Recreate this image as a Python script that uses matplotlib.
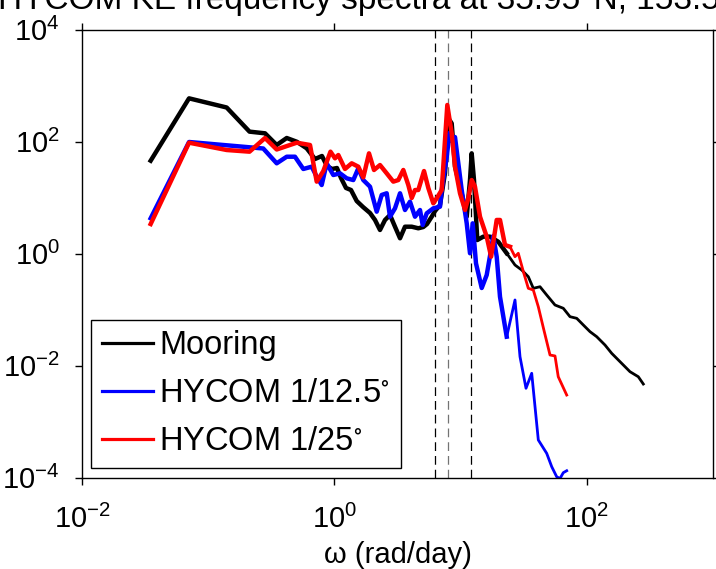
import numpy as np
import matplotlib
matplotlib.use('Agg')
import matplotlib.pyplot as plt
from matplotlib.ticker import NullLocator

# Helvetica-like text, also inside the 10^n tick labels
plt.rcParams['font.family'] = ['Liberation Sans', 'DejaVu Sans']
plt.rcParams['mathtext.fontset'] = 'custom'
plt.rcParams['mathtext.rm'] = 'Liberation Sans'
plt.rcParams['mathtext.it'] = 'Liberation Sans:italic'
plt.rcParams['mathtext.default'] = 'regular'

# Mooring spectrum (rad/day, KE)
moor_w = [0.035, 0.0705, 0.140, 0.2125, 0.282, 0.349, 0.419, 0.503, 0.603, 0.702,
          0.797, 0.874, 0.957, 1.048, 1.128, 1.236, 1.354, 1.502, 1.685, 1.915,
          2.098, 2.298, 2.518, 2.758, 3.021, 3.311, 3.626, 4.099, 4.622, 5.064,
          5.417, 5.902, 6.27, 6.868, 7.522, 7.99, 8.50, 9.03, 9.59, 10.50,
          11.18, 11.87, 12.24, 12.77, 13.56, 15.13, 17.10, 19.90, 23.19, 26.98,
          30.50, 34.40, 37.68, 42.58, 48.11, 55.98, 65.14, 73.60, 83.18, 93.83,
          106.0, 119.8, 139.4, 157.5, 183.3, 219.9, 255.9, 280.4]
moor_ke = [45.4, 590, 405, 150, 140, 86.6, 115.5, 99.1, 75.6, 48.7,
           55.1, 36.5, 32.3, 33.6, 22.3, 14.8, 13.6, 8.66, 6.77, 5.29,
           3.97, 2.63, 3.97, 4.87, 3.01, 1.87, 3.01, 3.01, 2.82, 2.97,
           3.36, 4.54, 5.74, 7.35, 27.4, 260, 211, 35.5, 20.5, 9.02,
           4.54, 20.5, 61.5, 20.5, 1.74, 2.0, 2.0, 1.62, 1.01, 0.623,
           0.507, 0.385, 0.239, 0.255, 0.1815, 0.1203, 0.1051, 0.0744, 0.0696, 0.0529,
           0.0402, 0.0327, 0.0232, 0.0165, 0.0117, 0.00775, 0.0063, 0.00467]

# HYCOM 1/12.5 degree
h12_w = [0.035, 0.0705, 0.273, 0.349, 0.419, 0.487, 0.567, 0.661, 0.724, 0.793,
         0.869, 0.980, 1.108, 1.252, 1.412, 1.547, 1.694, 1.915, 2.164, 2.371,
         2.597, 2.758, 3.021, 3.311, 3.626, 3.972, 4.352, 4.767, 5.009, 5.387,
         6.076, 6.868, 7.085, 7.762, 8.17, 8.55, 9.03, 9.59, 10.20, 11.18,
         11.87, 12.47, 13.24, 14.70, 16.10, 17.42, 18.16, 19.32, 20.52, 23.19,
         26.98, 29.56, 32.98, 36.60, 41.28, 48.11, 52.72, 57.74, 61.33, 65.14, 69.3]
h12_ke = [4.25, 98.0, 75.0, 40.8, 53.5, 53.5, 32.3, 35.5, 23.5, 16.7,
          40.8, 25.2, 27.0, 22.0, 20.5, 33.2, 20.5, 15.6, 5.58, 11.1,
          11.9, 4.54, 6.41, 11.9, 5.98, 8.42, 4.54, 5.98, 3.23, 5.22,
          6.41, 6.85, 13.6, 53.5, 142, 102, 120, 40.8, 13.6, 3.46,
          1.01, 3.46, 0.668, 0.242, 0.413, 1.155, 2.05, 0.877, 0.169, 0.0327,
          0.148, 0.01436, 0.00392, 0.00726, 0.000468, 0.00027, 0.000156, 0.000103, 0.000096, 0.000122, 0.000132]

# HYCOM 1/25 degree
h25_w = [0.035, 0.0705, 0.140, 0.2125, 0.282, 0.349, 0.503, 0.641, 0.724, 0.817,
         0.931, 1.011, 1.074, 1.213, 1.371, 1.547, 1.694, 1.880, 2.060, 2.298,
         2.597, 2.929, 3.209, 3.516, 3.852, 4.099, 4.352, 4.622, 5.129, 5.548,
         6.076, 6.465, 7.085, 7.846, 8.50, 9.03, 9.89, 10.84, 11.51, 12.24,
         13.0, 14.25, 16.10, 17.45, 19.32, 20.52, 22.48, 24.63, 26.98, 28.65,
         31.40, 34.40, 37.68, 41.28, 45.29, 51.10, 55.98, 59.40, 69.3]
h25_ke = [3.36, 95.2, 70.5, 65.8, 115.5, 72.0, 95.2, 86.6, 19.2, 29.7,
          65.8, 50.1, 57.4, 32.3, 40.8, 35.5, 22.8, 61.5, 31.0, 38.0,
          27.0, 19.2, 20.5, 31.0, 16.7, 9.80, 13.6, 13.6, 29.7, 14.8,
          7.88, 9.68, 13.6, 449, 140, 35.5, 11.9, 5.98, 9.68, 20.5,
          15.6, 4.54, 2.0, 0.877, 3.97, 3.97, 1.419, 1.32, 0.877, 1.01,
          0.477, 0.239, 0.223, 0.112, 0.0468, 0.0154, 0.0148, 0.0063, 0.00297]

# K1, f, M2 frequencies (rad/day)
k1_w = 6.30
f_w = 7.92
m2_w = 12.14

series = [(moor_w, moor_ke, 'k', 'Mooring'),
          (h12_w, h12_ke, 'b', r'HYCOM 1/12.5$^{\circ}$'),
          (h25_w, h25_ke, 'r', r'HYCOM 1/25$^{\circ}$')]

fig = plt.figure(figsize=(7.16, 5.69), dpi=100)
ax = fig.add_axes([82 / 716, 91.5 / 569, 631 / 716, 448 / 569])

# tidal / inertial lines
ax.axvline(k1_w, color='k', lw=0.9, ls=(0, (7, 4)), zorder=1)
ax.axvline(f_w, color='0.45', lw=0.9, ls=(0, (7, 4)), zorder=1)
ax.axvline(m2_w, color='k', lw=0.9, ls=(0, (7, 4)), zorder=1)

# thick lines at low frequency, thinner at high frequency
split_w = 25.0
handles = []
for w, ke, c, lab in series:
    w = np.array(w)
    ke = np.array(ke)
    lo = w <= split_w
    hi = w >= w[lo][-1]
    h, = ax.plot(w[lo], ke[lo], color=c, lw=3.2, label=lab)
    ax.plot(w[hi], ke[hi], color=c, lw=2.0)
    handles.append(h)

ax.set_xscale('log')
ax.set_yscale('log')
ax.set_xlim(1e-2, 1e3)
ax.set_ylim(1e-4, 1e4)
ax.set_xticks([1e-2, 1e0, 1e2])
ax.set_yticks([1e-4, 1e-2, 1e0, 1e2, 1e4])
ax.xaxis.set_minor_locator(NullLocator())
ax.yaxis.set_minor_locator(NullLocator())
ax.tick_params(which='both', direction='out', length=5, width=1, top=True, right=True,
               labelsize=21)
ax.tick_params(axis='x', pad=15)
ax.tick_params(axis='y', pad=11)
for s in ax.spines.values():
    s.set_linewidth(1.0)

ax.set_xlabel('ω (rad/day)', fontsize=21, labelpad=5)

leg = ax.legend(handles=handles, loc='lower left', bbox_to_anchor=(0.0143, 0.0212),
                borderaxespad=0, fontsize=23.5, handlelength=1.56, handletextpad=0.2,
                labelspacing=0.52, borderpad=0.33, fancybox=False, framealpha=1)
leg.get_frame().set_edgecolor('k')
leg.get_frame().set_linewidth(1.0)
for line in leg.get_lines():
    line.set_linewidth(2.3)

# title is cut off at the top of the figure in the reference
fig.text(-2 / 716, 1 - 9 / 569, 'HYCOM KE frequency spectra at 35.95°N, 153.5°E',
         ha='left', va='baseline', fontsize=24)

fig.savefig('out.png', dpi=100)
